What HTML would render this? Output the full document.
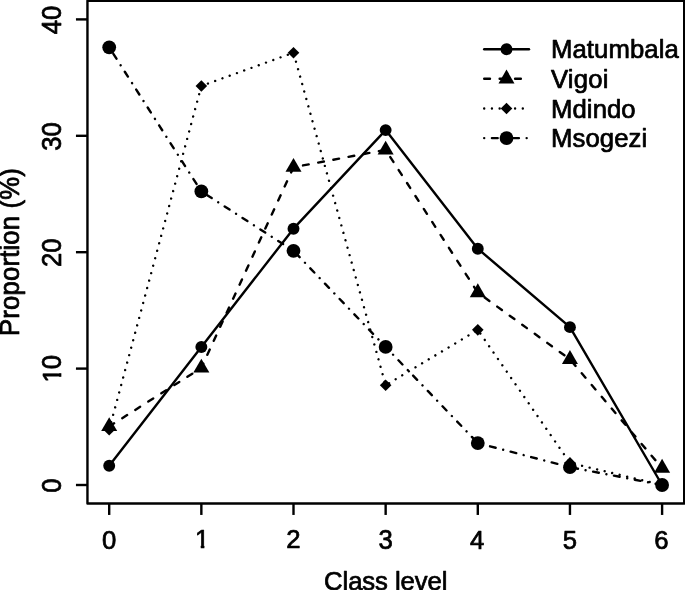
<!DOCTYPE html>
<html><head><meta charset="utf-8"><title>chart</title>
<style>
html,body{margin:0;padding:0;background:#fff;}
svg{display:block;will-change:transform;}
text{font-family:"Liberation Sans",sans-serif;font-size:25.7px;fill:#000;stroke:#000;stroke-width:0.72px;stroke-linejoin:round;}
</style></head><body>
<svg width="685" height="590" viewBox="0 0 685 590">
<rect x="0" y="0" width="685" height="590" fill="#fff"/>
<defs>
<clipPath id="c1"><path d="M-10,-30H10V-3.4H2.3V2H-1.3V-3.4H-10Z"/></clipPath>
<clipPath id="c10"><path d="M-20,-30H0V-3.4H-4.1V2H-7.6V-3.4H-20Z"/></clipPath>
</defs>

<g fill="none" stroke="#000" stroke-width="2.4" stroke-linecap="butt" stroke-linejoin="round">
<rect x="87.45" y="0.8" width="596.75" height="502.65"/>
<line x1="109.20" y1="503.45" x2="109.20" y2="514.95"/>
<line x1="201.35" y1="503.45" x2="201.35" y2="514.95"/>
<line x1="293.50" y1="503.45" x2="293.50" y2="514.95"/>
<line x1="385.65" y1="503.45" x2="385.65" y2="514.95"/>
<line x1="477.80" y1="503.45" x2="477.80" y2="514.95"/>
<line x1="569.95" y1="503.45" x2="569.95" y2="514.95"/>
<line x1="662.10" y1="503.45" x2="662.10" y2="514.95"/>
<line x1="87.45" y1="485.00" x2="75.95" y2="485.00"/>
<line x1="87.45" y1="368.60" x2="75.95" y2="368.60"/>
<line x1="87.45" y1="252.20" x2="75.95" y2="252.20"/>
<line x1="87.45" y1="135.80" x2="75.95" y2="135.80"/>
<line x1="87.45" y1="19.40" x2="75.95" y2="19.40"/>
</g>
<text transform="translate(109.20,549.0) scale(1,1.035)" text-anchor="middle">0</text>
<text transform="translate(202.05,548.2) scale(1,0.972)" text-anchor="middle" clip-path="url(#c1)">1</text>
<text transform="translate(293.50,548.4) scale(1,0.997)" text-anchor="middle">2</text>
<text transform="translate(385.65,548.9) scale(1,1.04)" text-anchor="middle">3</text>
<text transform="translate(477.25,548.6) scale(1,1.007)" text-anchor="middle">4</text>
<text transform="translate(569.95,548.85) scale(1,1.021)" text-anchor="middle">5</text>
<text transform="translate(661.50,549.0) scale(1,1.026)" text-anchor="middle">6</text>
<text transform="translate(61.1,485.60) rotate(-90) scale(1,1.04)" text-anchor="middle">0</text>
<text transform="translate(61.1,369.20) rotate(-90) scale(1,0.987)" x="-13.39" clip-path="url(#c10)">1</text>
<text transform="translate(61.1,369.20) rotate(-90) scale(1,1.04)" x="0">0</text>
<text transform="translate(61.1,252.80) rotate(-90) scale(1,1.04)" text-anchor="middle">20</text>
<text transform="translate(61.1,136.40) rotate(-90) scale(1,1.04)" text-anchor="middle">30</text>
<text transform="translate(61.1,20.00) rotate(-90) scale(1,1.04)" text-anchor="middle">40</text>
<text transform="translate(385.7,589.6) scale(1,1.0)" text-anchor="middle" style="letter-spacing:-0.09px">Class level</text>
<text transform="translate(18.95,252.0) rotate(-90) scale(1,1.04)" text-anchor="middle" style="letter-spacing:0.17px">Proportion (%)</text>
<polyline points="109.20,465.79 201.35,346.95 293.50,228.69 385.65,130.10 477.80,248.71 569.95,327.16 662.10,485.00" fill="none" stroke="#000" stroke-width="2.4" stroke-linejoin="round" stroke-linecap="round"/>
<g fill="#000"><circle cx="109.20" cy="465.79" r="5.95"/><circle cx="201.35" cy="346.95" r="5.95"/><circle cx="293.50" cy="228.69" r="5.95"/><circle cx="385.65" cy="130.10" r="5.95"/><circle cx="477.80" cy="248.71" r="5.95"/><circle cx="569.95" cy="327.16" r="5.95"/><circle cx="662.10" cy="485.00" r="5.95"/></g>
<polyline points="109.20,426.45 201.35,367.90 293.50,167.23 385.65,149.88 477.80,292.59 569.95,359.29 662.10,468.12" fill="none" stroke="#000" stroke-width="2.4" stroke-linejoin="round" stroke-linecap="round" stroke-dasharray="5.79 9.65"/>
<g fill="#000"><polygon points="109.20,417.20 117.21,431.08 101.19,431.08"/><polygon points="201.35,358.65 209.36,372.53 193.34,372.53"/><polygon points="293.50,157.98 301.51,171.85 285.49,171.85"/><polygon points="385.65,140.63 393.66,154.51 377.64,154.51"/><polygon points="477.80,283.34 485.81,297.22 469.79,297.22"/><polygon points="569.95,350.04 577.96,363.91 561.94,363.91"/><polygon points="662.10,458.87 670.11,472.75 654.09,472.75"/></g>
<polyline points="109.20,429.71 201.35,85.98 293.50,52.69 385.65,385.25 477.80,329.84 569.95,462.88 662.10,485.00" fill="none" stroke="#000" stroke-width="2.4" stroke-linejoin="round" stroke-linecap="round" stroke-dasharray="0.01 7.71"/>
<g fill="#000"><polygon points="109.20,423.91 115.00,429.71 109.20,435.51 103.40,429.71"/><polygon points="201.35,80.18 207.15,85.98 201.35,91.78 195.55,85.98"/><polygon points="293.50,46.89 299.30,52.69 293.50,58.49 287.70,52.69"/><polygon points="385.65,379.45 391.45,385.25 385.65,391.05 379.85,385.25"/><polygon points="477.80,324.04 483.60,329.84 477.80,335.64 472.00,329.84"/><polygon points="569.95,457.08 575.75,462.88 569.95,468.68 564.15,462.88"/><polygon points="662.10,479.20 667.90,485.00 662.10,490.80 656.30,485.00"/></g>
<polyline points="109.20,47.34 201.35,191.44 293.50,250.80 385.65,346.95 477.80,443.10 569.95,467.19 662.10,485.00" fill="none" stroke="#000" stroke-width="2.4" stroke-linejoin="round" stroke-linecap="round" stroke-dasharray="0.01 7.71 5.79 7.72"/>
<g fill="#000"><circle cx="109.20" cy="47.34" r="6.9"/><circle cx="201.35" cy="191.44" r="6.9"/><circle cx="293.50" cy="250.80" r="6.9"/><circle cx="385.65" cy="346.95" r="6.9"/><circle cx="477.80" cy="443.10" r="6.9"/><circle cx="569.95" cy="467.19" r="6.9"/><circle cx="662.10" cy="485.00" r="6.9"/></g>
<line x1="484.2" y1="49.2" x2="529.0" y2="49.2" stroke="#000" stroke-width="2.4" stroke-linecap="round"/>
<g fill="#000"><circle cx="506.50" cy="49.20" r="5.95"/></g>
<text transform="translate(551.0,58.45) scale(1,1.0)" style="letter-spacing:0.08px">Matumbala</text>
<line x1="484.2" y1="78.8" x2="529.0" y2="78.8" stroke="#000" stroke-width="2.4" stroke-linecap="round" stroke-dasharray="5.79 9.65"/>
<g fill="#000"><polygon points="506.50,69.55 514.51,83.42 498.49,83.42"/></g>
<text transform="translate(551.0,88.20) scale(1,1.0)" style="letter-spacing:0.2px">Vigoi</text>
<line x1="484.2" y1="108.5" x2="529.0" y2="108.5" stroke="#000" stroke-width="2.4" stroke-linecap="round" stroke-dasharray="0.01 7.71"/>
<g fill="#000"><polygon points="506.50,102.70 512.30,108.50 506.50,114.30 500.70,108.50"/></g>
<text transform="translate(551.0,118.15) scale(1,1.0)" style="letter-spacing:0.08px">Mdindo</text>
<line x1="484.2" y1="138.1" x2="529.0" y2="138.1" stroke="#000" stroke-width="2.4" stroke-linecap="round" stroke-dasharray="0.01 7.71 5.79 7.72"/>
<g fill="#000"><circle cx="506.50" cy="138.10" r="6.9"/></g>
<text transform="translate(551.0,146.80) scale(1,1.0)" style="letter-spacing:0.08px">Msogezi</text>
</svg></body></html>
